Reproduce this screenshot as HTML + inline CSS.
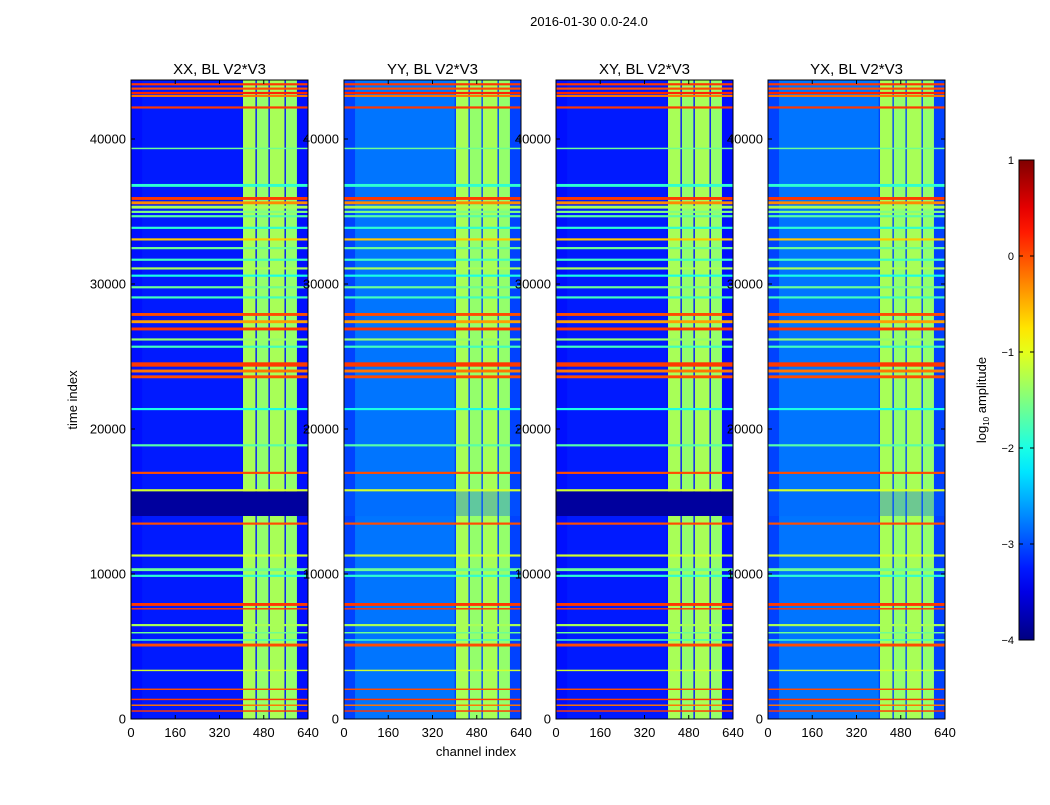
<!DOCTYPE html>
<html><head><meta charset="utf-8">
<style>
body{margin:0;background:#fff;font-family:"Liberation Sans",sans-serif;}
svg text{font-family:"Liberation Sans",sans-serif;}
</style></head>
<body>
<svg id="c" width="1050" height="800" xmlns="http://www.w3.org/2000/svg">
<rect width="1050" height="800" fill="#fff"/>
<text x="589" y="26" font-size="13" text-anchor="middle">2016-01-30 0.0-24.0</text>
</svg>
<script>
// ---- data ----
const panelTitles = ["XX, BL V2*V3","YY, BL V2*V3","XY, BL V2*V3","YX, BL V2*V3"];
const panelBg = [-3.3, -3.05, -3.3, -3.05];
const panelMid = [-3.25, -2.8, -3.25, -2.8];      // level in channels midStart..midEnd
const midStart = 40, midEnd = 400;
const darkLevel = [-3.85, -2.9, -3.85, -2.9];   // level in time 14000..15700
const darkStart = 14000, darkEnd = 15700;
const bandStart = [405, 455, 502, 560];
const bandEnd   = [450, 497, 555, 600];
const bandLevel = [-1.3, -1.4, -1.3, -1.4];
const rfiStart = [43700,43400,43100,42900,42100,39300,36700,35800,35500,35200,34900,34600,33800,33000,32400,31600,31000,30500,29700,29000,27800,27300,26800,26100,25600,24300,23900,23500,21300,18800,16900,15700,13400,11200,10200,9800,7800,7550,6400,5900,5400,5000,3300,2000,1300,900,500];
const rfiEnd   = [43850,43550,43250,43050,42250,39400,36900,36000,35700,35400,35050,34750,33950,33150,32550,31750,31150,30650,29850,29150,28000,27500,27000,26250,25750,24600,24100,23700,21450,18950,17050,15850,13550,11350,10400,9950,8000,7650,6550,6000,5500,5200,3400,2100,1400,1000,600];
const rfiLevel = [0.1,0.0,0.2,-0.2,0.1,-1.6,-1.9,0.1,-0.3,-1.3,-1.5,-1.7,-1.9,-0.6,-1.6,-1.8,-1.3,-2.0,-1.6,-1.8,0.0,-0.4,0.1,-1.4,-1.8,0.1,-0.2,0.0,-2.0,-1.7,0.0,-1.1,0.0,-1.1,-1.6,-1.9,0.1,0.1,-1.3,-1.6,-1.8,0.0,-1.1,0.0,0.1,-0.2,0.1];
const xTicks = [0,160,320,480,640];
const yTicks = [0,10000,20000,30000,40000];
const cbTicks = [1,0,-1,-2,-3,-4];

// ---- geometry ----
const panelLeft = [131,344,556,768], PW = 177, TOP = 80, BOT = 719;
const TMAX = 44070, CMAX = 640;
const vmin = -4, vmax = 1;
const svg = document.getElementById('c');
const NS = "http://www.w3.org/2000/svg";
function el(tag, attrs, parent){const e=document.createElementNS(NS,tag);for(const k in attrs)e.setAttribute(k,attrs[k]);(parent||svg).appendChild(e);return e;}
function jet(v){let n=(v-vmin)/(vmax-vmin);n=Math.max(0,Math.min(1,n));
 const c=x=>Math.round(255*Math.max(0,Math.min(1,x)));
 return `rgb(${c(1.5-Math.abs(4*n-3))},${c(1.5-Math.abs(4*n-2))},${c(1.5-Math.abs(4*n-1))})`;}
function yS(t){return BOT-(t/TMAX)*(BOT-TOP);}
for(let p=0;p<4;p++){
 const L=panelLeft[p];
 const xS=ch=>L+ch/CMAX*PW;
 const g=el('g',{});
 
 
 let r=el('rect',{x:L,y:TOP,width:PW,height:BOT-TOP,fill:jet(panelBg[p])},g);
 
 r=el('rect',{x:xS(midStart),y:TOP,width:xS(midEnd)-xS(midStart),height:BOT-TOP,fill:jet(panelMid[p])},g);
 
 for(let i=0;i<bandStart.length;i++){
  r=el('rect',{x:xS(bandStart[i]),y:TOP,width:xS(bandEnd[i])-xS(bandStart[i]),height:BOT-TOP,fill:jet(bandLevel[i])},g);
  
 }
 r=el('rect',{x:L,y:yS(darkEnd),width:PW,height:yS(darkStart)-yS(darkEnd),fill:jet(darkLevel[p]),opacity:p%2?0.35:1},g);
 
 for(let i=0;i<rfiStart.length;i++){
  const y1=yS(rfiEnd[i]),y2=yS(rfiStart[i]);
  r=el('rect',{x:L,y:y1,width:PW,height:Math.max(1,y2-y1),fill:jet(rfiLevel[i])},g);
  
 }
 const fr=el('rect',{x:L,y:TOP,width:PW,height:BOT-TOP,fill:'none',stroke:'#000','stroke-width':1});
 
 const t=el('text',{x:L+PW/2,y:74,'font-size':15,'text-anchor':'middle'});t.textContent=panelTitles[p];
 
 xTicks.forEach(v=>{const x=xS(v);
  el('line',{x1:x,x2:x,y1:BOT,y2:BOT-4,stroke:'#000'});el('line',{x1:x,x2:x,y1:TOP,y2:TOP+4,stroke:'#000'});
  const tx=el('text',{x:x,y:737,'font-size':13,'text-anchor':'middle'});tx.textContent=v;
  });
 yTicks.forEach(v=>{const y=yS(v);
  el('line',{x1:L,x2:L+4,y1:y,y2:y,stroke:'#000'});el('line',{x1:L+PW,x2:L+PW-4,y1:y,y2:y,stroke:'#000'});
  const ty=el('text',{x:L-5,y:y+4.5,'font-size':13,'text-anchor':'end'});ty.textContent=v;
  });
}
let a=el('text',{x:476,y:756,'font-size':13,'text-anchor':'middle'});a.textContent='channel index';

a=el('text',{x:77,y:400,'font-size':13,'text-anchor':'middle',transform:'rotate(-90 77 400)'});a.textContent='time index';

// colorbar
const cbX=1019,cbW=15,cbT=160,cbB=640;
const grad=el('linearGradient',{id:'jg',x1:0,y1:1,x2:0,y2:0},el('defs',{}));
for(let i=0;i<=20;i++){el('stop',{offset:i/20,'stop-color':jet(vmin+(vmax-vmin)*i/20)},grad);}
a=el('rect',{x:cbX,y:cbT,width:cbW,height:cbB-cbT,fill:'url(#jg)',stroke:'#000'});

cbTicks.forEach(v=>{const y=cbB-(v-vmin)/(vmax-vmin)*(cbB-cbT);
 el('line',{x1:cbX,x2:cbX+4,y1:y,y2:y,stroke:'#000'});el('line',{x1:cbX+cbW,x2:cbX+cbW-4,y1:y,y2:y,stroke:'#000'});
 const t=el('text',{x:1014,y:y+4,'font-size':11,'text-anchor':'end'});t.textContent=v<0?'\u2212'+(-v):v;
 });
a=el('text',{x:986,y:400,'font-size':13,'text-anchor':'middle',transform:'rotate(-90 986 400)'});
a.innerHTML='log<tspan font-size="8" dy="3">10</tspan><tspan dy="-3"> amplitude</tspan>';

</script>
</body></html>
